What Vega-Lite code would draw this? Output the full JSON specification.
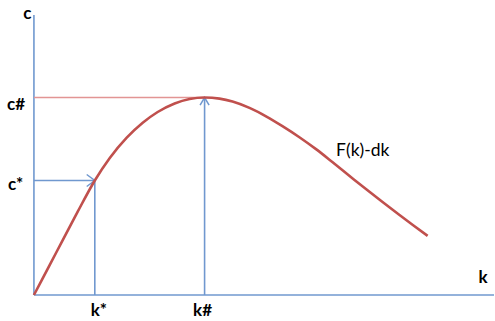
{
  "$schema": "https://vega.github.io/schema/vega-lite/v6.json",
  "width": 495,
  "height": 321,
  "autosize": {"type": "fit", "contains": "padding"},
  "padding": 0,
  "background": "white",
  "config": {"view": {"stroke": null}},
  "datasets": {
    "curve": [
      {"k": 0, "c": 0},
      {"k": 0.4, "c": 0.76},
      {"k": 0.725, "c": 1.3775},
      {"k": 1.1, "c": 2.09},
      {"k": 1.525, "c": 2.8625},
      {"k": 1.9, "c": 3.4253},
      {"k": 2.325, "c": 3.9328},
      {"k": 2.725, "c": 4.3061},
      {"k": 3.1, "c": 4.5746},
      {"k": 3.525, "c": 4.7889},
      {"k": 3.9, "c": 4.9},
      {"k": 4.275, "c": 4.9375},
      {"k": 4.65, "c": 4.909},
      {"k": 4.975, "c": 4.836},
      {"k": 5.4, "c": 4.677},
      {"k": 5.825, "c": 4.462},
      {"k": 6.225, "c": 4.222},
      {"k": 6.65, "c": 3.945},
      {"k": 7.075, "c": 3.64},
      {"k": 7.475, "c": 3.325},
      {"k": 7.9, "c": 2.982},
      {"k": 8.325, "c": 2.641},
      {"k": 8.725, "c": 2.329},
      {"k": 9.15, "c": 2.006},
      {"k": 9.5, "c": 1.745},
      {"k": 9.8625, "c": 1.479}
    ],
    "segments": [
      {"name": "c-axis", "kind": "axis", "k": 0, "c": 0, "k2": 0, "c2": 7.0},
      {"name": "k-axis", "kind": "axis", "k": 0, "c": 0, "k2": 11.525, "c2": 0},
      {"name": "c*", "kind": "guide", "k": 0, "c": 2.8625, "k2": 1.525, "c2": 2.8625},
      {"name": "k*", "kind": "guide", "k": 1.525, "c": 0, "k2": 1.525, "c2": 2.8625},
      {"name": "k#", "kind": "guide", "k": 4.275, "c": 0, "k2": 4.275, "c2": 4.9375},
      {"name": "c#", "kind": "level", "k": 0, "c": 4.9375, "k2": 4.275, "c2": 4.9375}
    ],
    "arrows": [
      {"dir": "right", "k": 1.525, "c": 2.8625},
      {"dir": "up", "k": 4.275, "c": 4.9375}
    ],
    "labels": [
      {"label": "c", "kind": "axis", "k": -0.1625, "c": 6.9125},
      {"label": "c#", "kind": "axis", "k": -0.45, "c": 4.625},
      {"label": "c*", "kind": "axis", "k": -0.4575, "c": 2.625},
      {"label": "k*", "kind": "axis", "k": 1.625, "c": -0.525},
      {"label": "k#", "kind": "axis", "k": 4.225, "c": -0.525},
      {"label": "k", "kind": "axis", "k": 11.25, "c": 0.3},
      {"label": "F(k)-dk", "kind": "curve", "k": 8.2375, "c": 3.4875}
    ]
  },
  "layer": [
    {
      "data": {"name": "segments"},
      "mark": {"type": "rule", "strokeWidth": 1.6},
      "encoding": {
        "x": {"field": "k", "type": "quantitative", "scale": {"domain": [-0.85, 11.525], "nice": false, "zero": false}, "axis": null},
        "y": {"field": "c", "type": "quantitative", "scale": {"domain": [-0.65, 7.375], "nice": false, "zero": false}, "axis": null},
        "x2": {"field": "k2"},
        "y2": {"field": "c2"},
        "color": {"field": "kind", "type": "nominal", "scale": {"domain": ["axis", "guide", "level"], "range": ["#7098cf", "#7098cf", "#e29594"]}, "legend": null}
      }
    },
    {
      "data": {"name": "arrows"},
      "transform": [{"filter": "datum.dir === 'right'"}],
      "mark": {"type": "point", "shape": "M-1.35,-1L0,0L-1.35,1", "filled": false, "stroke": "#7098cf", "strokeWidth": 1.5, "size": 144, "opacity": 1},
      "encoding": {
        "x": {"field": "k", "type": "quantitative", "scale": {"domain": [-0.85, 11.525], "nice": false, "zero": false}, "axis": null},
        "y": {"field": "c", "type": "quantitative", "scale": {"domain": [-0.65, 7.375], "nice": false, "zero": false}, "axis": null}
      }
    },
    {
      "data": {"name": "arrows"},
      "transform": [{"filter": "datum.dir === 'up'"}],
      "mark": {"type": "point", "shape": "M-1,1.7L0,0L1,1.7", "filled": false, "stroke": "#7098cf", "strokeWidth": 1.5, "size": 81, "opacity": 1},
      "encoding": {
        "x": {"field": "k", "type": "quantitative", "scale": {"domain": [-0.85, 11.525], "nice": false, "zero": false}, "axis": null},
        "y": {"field": "c", "type": "quantitative", "scale": {"domain": [-0.65, 7.375], "nice": false, "zero": false}, "axis": null}
      }
    },
    {
      "data": {"name": "curve"},
      "mark": {"type": "line", "interpolate": "monotone", "stroke": "#c0504d", "strokeWidth": 2.6},
      "encoding": {
        "x": {"field": "k", "type": "quantitative", "scale": {"domain": [-0.85, 11.525], "nice": false, "zero": false}, "axis": null},
        "y": {"field": "c", "type": "quantitative", "scale": {"domain": [-0.65, 7.375], "nice": false, "zero": false}, "axis": null}
      }
    },
    {
      "data": {"name": "labels"},
      "transform": [{"filter": "datum.kind === 'axis'"}],
      "mark": {"type": "text", "font": "Lato", "fontSize": 17, "fontWeight": "bold", "align": "center", "baseline": "alphabetic", "color": "#000000"},
      "encoding": {
        "x": {"field": "k", "type": "quantitative", "scale": {"domain": [-0.85, 11.525], "nice": false, "zero": false}, "axis": null},
        "y": {"field": "c", "type": "quantitative", "scale": {"domain": [-0.65, 7.375], "nice": false, "zero": false}, "axis": null},
        "text": {"field": "label"}
      }
    },
    {
      "data": {"name": "labels"},
      "transform": [{"filter": "datum.kind === 'curve'"}],
      "mark": {"type": "text", "font": "Lato", "fontSize": 17.5, "align": "center", "baseline": "alphabetic", "color": "#000000"},
      "encoding": {
        "x": {"field": "k", "type": "quantitative", "scale": {"domain": [-0.85, 11.525], "nice": false, "zero": false}, "axis": null},
        "y": {"field": "c", "type": "quantitative", "scale": {"domain": [-0.65, 7.375], "nice": false, "zero": false}, "axis": null},
        "text": {"field": "label"}
      }
    }
  ]
}
